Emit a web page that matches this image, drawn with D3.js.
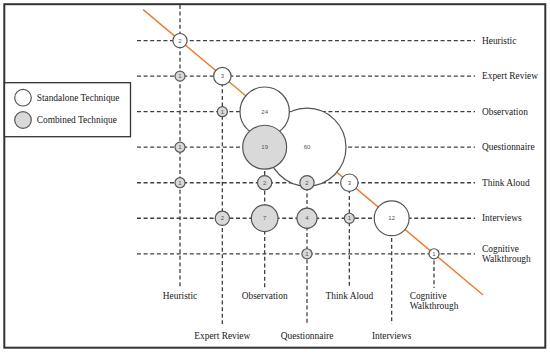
<!DOCTYPE html>
<html>
<head>
<meta charset="utf-8">
<script src="https://cdn.jsdelivr.net/npm/d3@7"></script>
<style>
  body { margin: 0; background: #fff; }
</style>
</head>
<body>
<script>
// techniques, same order on both axes
let techniques = ["Heuristic", "Expert Review", "Observation", "Questionnaire",
                  "Think Aloud", "Interviews", "Cognitive Walkthrough"];

// standalone counts sit on the diagonal
let standalone = [2, 3, 24, 60, 3, 12, 1];

// combined counts: column technique, row technique, count
let combined = [
  ["Heuristic", "Expert Review", 1],
  ["Heuristic", "Questionnaire", 1],
  ["Heuristic", "Think Aloud", 1],
  ["Expert Review", "Observation", 1],
  ["Expert Review", "Interviews", 2],
  ["Observation", "Questionnaire", 19],
  ["Observation", "Think Aloud", 2],
  ["Observation", "Interviews", 7],
  ["Questionnaire", "Think Aloud", 2],
  ["Questionnaire", "Interviews", 4],
  ["Questionnaire", "Cognitive Walkthrough", 1],
  ["Think Aloud", "Interviews", 1]
];

let legendLabels = ["Standalone Technique", "Combined Technique"];

let w = 550, h = 352;
let serif = "'Liberation Serif', 'Times New Roman', serif";
let textCol = "#1a1a1a";

let svg = d3.select("body").append("svg")
    .attr("width", w)
    .attr("height", h);

let x = d3.scalePoint().domain(techniques).range([180, 434]);
let y = d3.scalePoint().domain(techniques).range([40.6, 253.8]);
let r = d3.scaleSqrt().domain([0, 60]).range([0, 39]);

let dash = "4,2.6", lineCol = "#404040";

// outer frame
svg.append("rect")
    .attr("x", 4.3).attr("y", 4.2)
    .attr("width", 541).attr("height", 343.5)
    .attr("fill", "none")
    .attr("stroke", "#333")
    .attr("stroke-width", 2);

// horizontal dashed rows
svg.selectAll(".row")
    .data(techniques)
    .enter().append("line")
        .attr("x1", 137).attr("x2", 475)
        .attr("y1", d => y(d)).attr("y2", d => y(d))
        .attr("stroke", lineCol)
        .attr("stroke-width", 1.3)
        .attr("stroke-dasharray", dash);

// vertical dashed columns, long and short ones alternate
svg.selectAll(".col")
    .data(techniques)
    .enter().append("line")
        .attr("x1", d => x(d)).attr("x2", d => x(d))
        .attr("y1", (d, i) => i === 0 ? 5 : y(d))
        .attr("y2", (d, i) => i % 2 === 0 ? 288 : 324)
        .attr("stroke", lineCol)
        .attr("stroke-width", 1.3)
        .attr("stroke-dasharray", dash);

// orange diagonal through the standalone circles
let step = x.step(), stepY = y.step();
let first = techniques[0], last = techniques[techniques.length - 1];
svg.append("line")
    .attr("x1", x(first) - 0.87 * step).attr("y1", y(first) - 0.87 * stepY)
    .attr("x2", x(last) + 1.16 * step).attr("y2", y(last) + 1.16 * stepY)
    .attr("stroke", "#ed7d31")
    .attr("stroke-width", 1.5);

// all bubbles in one list, big ones first so they end up behind
let bubbles = standalone.map((v, i) => ({ cx: techniques[i], cy: techniques[i], v: v, type: "s" }))
    .concat(combined.map(d => ({ cx: d[0], cy: d[1], v: d[2], type: "c" })))
    .sort((a, b) => b.v - a.v);

let g = svg.selectAll(".bubble")
    .data(bubbles)
    .enter().append("g")
        .attr("transform", d => `translate(${x(d.cx)},${y(d.cy)})`);

g.append("circle")
    .attr("r", d => r(d.v))
    .attr("fill", d => d.type === "s" ? "#fff" : "#d9d9d9")
    .attr("stroke", "#555")
    .attr("stroke-width", 1.2);

g.append("text")
    .text(d => d.v)
    .attr("text-anchor", "middle")
    .attr("dy", "0.35em")
    .attr("font-size", "6px")
    .attr("fill", "#555")
    .attr("font-family", "'Liberation Sans', Arial, sans-serif");

// row labels on the right
svg.selectAll(".rowLabel")
    .data(techniques)
    .enter().append("text")
        .attr("x", 482)
        .attr("y", d => y(d))
        .attr("font-family", serif)
        .attr("font-size", "9.4px")
        .attr("fill", textCol)
        .each(function (d) {
            let parts = d === "Cognitive Walkthrough" ? ["Cognitive", "Walkthrough"] : [d];
            let t = d3.select(this);
            parts.forEach((p, k) => {
                t.append("tspan")
                    .attr("x", 482)
                    .attr("dy", k === 0 ? (0.33 - (parts.length - 1) * 0.55) + "em" : "1.12em")
                    .text(p);
            });
        });

// column labels at the bottom of each vertical line
svg.selectAll(".colLabel")
    .data(techniques)
    .enter().append("text")
        .attr("x", d => x(d))
        .attr("y", (d, i) => i % 2 === 0 ? 298.5 : 339)
        .attr("text-anchor", "middle")
        .attr("font-family", serif)
        .attr("font-size", "9.4px")
        .attr("fill", textCol)
        .each(function (d) {
            if (d !== "Cognitive Walkthrough") { d3.select(this).text(d); return; }
            let t = d3.select(this).attr("text-anchor", "start");
            let a = t.append("tspan").text("Cognitive");
            let b = t.append("tspan").attr("dy", "1.15em").text("Walkthrough");
            let left = x(d) - b.node().getComputedTextLength() / 2;
            a.attr("x", left);
            b.attr("x", left);
        });

// legend
let legend = svg.append("g");
legend.append("rect")
    .attr("x", 4.5).attr("y", 82.7)
    .attr("width", 126).attr("height", 54)
    .attr("fill", "#fff")
    .attr("stroke", "#333")
    .attr("stroke-width", 1.3);

let li = legend.selectAll(".item")
    .data(legendLabels)
    .enter().append("g")
        .attr("transform", (d, i) => `translate(23,${97.7 + i * 22.3})`);

li.append("circle")
    .attr("r", 8.3)
    .attr("fill", (d, i) => i === 0 ? "#fff" : "#d9d9d9")
    .attr("stroke", "#555")
    .attr("stroke-width", 1.2);

li.append("text")
    .attr("x", 13.7)
    .attr("dy", "0.33em")
    .attr("font-family", serif)
    .attr("font-size", "9.4px")
    .attr("fill", textCol)
    .text(d => d);
</script>
</body>
</html>
